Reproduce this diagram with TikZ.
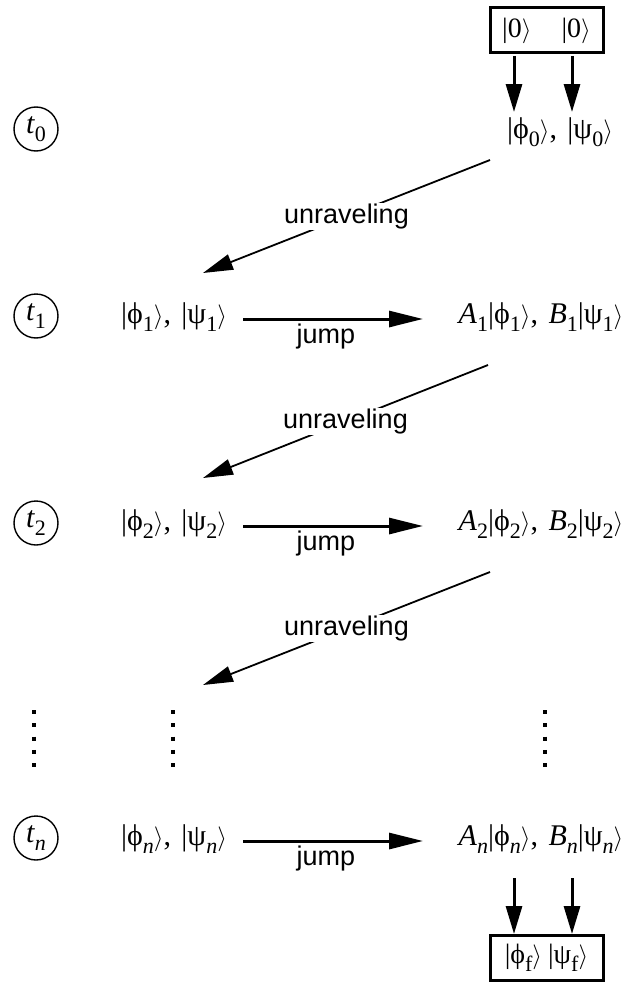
\documentclass[tikz,border=0pt]{standalone}
\usepackage{fontspec}
\setmainfont{Liberation Serif}
\newfontfamily\sansf{Liberation Sans}
\usetikzlibrary{arrows.meta}
\newcommand\sbs[1]{\raisebox{-0.27em}{\fontsize{22}{24}\selectfont #1}}
\newcommand\kt[2]{|#1\sbs{#2}$\rangle$}
\newcommand\cm{,\hspace{0.35em}}
\newcommand\ph{ϕ}
\newcommand\ps{ψ}
\begin{document}
\begin{tikzpicture}[x=1pt,y=-1pt,
  txt/.style={font=\fontsize{30}{33}\selectfont, inner sep=0pt},
  lbl/.style={font=\sansf\fontsize{27}{30}\selectfont, inner sep=1pt, fill=white},
  tcirc/.style={draw, circle, line width=1.4pt, minimum size=44pt, inner sep=0pt, font=\fontsize{30}{33}\selectfont},
  kbox/.style={draw, line width=3pt, minimum width=113pt, minimum height=45pt, inner sep=0pt, font=\fontsize{28}{30}\selectfont},
  dar/.style={line width=3pt, -{Triangle[length=28pt,width=16pt]}},
  jar/.style={line width=3pt, -{Triangle[length=34pt,width=16pt]}},
  uar/.style={line width=1.8pt, -{Triangle[length=30pt,width=16pt]}},
  vdots/.style={line width=4pt, dash pattern=on 4pt off 9.25pt}
]
\useasboundingbox (0,0) rectangle (634,982);

% top box
\node[kbox] (top) at (546.5,30.5) {|0$\rangle$\hspace{30pt}|0$\rangle$};
\coordinate (ta) at (514,56);
\coordinate (tb) at (572,56);
\coordinate (ha) at (514,112);
\coordinate (hb) at (572,112);
\draw[dar] (ta) -- (ha);
\draw[dar] (tb) -- (hb);

% circles
\node[tcirc] (t0) at (36,129) {\textit{t}\sbs{0}};
\node[tcirc] (t1) at (36,316) {\textit{t}\sbs{1}};
\node[tcirc] (t2) at (36,523) {\textit{t}\sbs{2}};
\node[tcirc] (tn) at (36,838) {\textit{t}\sbs{\textit{n}}};

% row 0
\node[txt] (r0) at (560,132) {\kt{\ph}{0}\cm\kt{\ps}{0}};

% row 1
\node[txt] (l1) at (174,317) {\kt{\ph}{1}\cm\kt{\ps}{1}};
\node[txt] (r1) at (541,317) {\textit{A}\sbs{1}\kt{\ph}{1}\cm\textit{B}\sbs{1}\kt{\ps}{1}};
% row 2
\node[txt] (l2) at (174,524) {\kt{\ph}{2}\cm\kt{\ps}{2}};
\node[txt] (r2) at (541,524) {\textit{A}\sbs{2}\kt{\ph}{2}\cm\textit{B}\sbs{2}\kt{\ps}{2}};
% row n
\node[txt] (ln) at (174,839) {\kt{\ph}{\textit{n}}\cm\kt{\ps}{\textit{n}}};
\node[txt] (rn) at (541,839) {\textit{A}\sbs{\textit{n}}\kt{\ph}{\textit{n}}\cm\textit{B}\sbs{\textit{n}}\kt{\ps}{\textit{n}}};

% jump arrows
\coordinate (j1a) at (243,319); \coordinate (j1b) at (423,319);
\coordinate (j2a) at (243,526); \coordinate (j2b) at (423,526);
\coordinate (jna) at (243,841); \coordinate (jnb) at (423,841);
\draw[jar] (j1a) -- (j1b);
\draw[jar] (j2a) -- (j2b);
\draw[jar] (jna) -- (jnb);
\node[lbl, fill=none] (jl1) at (326,337) {jump};
\node[lbl, fill=none] (jl2) at (326,544) {jump};
\node[lbl, fill=none] (jln) at (326,859) {jump};

% unraveling arrows
\coordinate (u1a) at (490,160); \coordinate (u1b) at (203,273);
\coordinate (u2a) at (488,365); \coordinate (u2b) at (203,478);
\coordinate (u3a) at (490,572); \coordinate (u3b) at (203,685);
\draw[uar] (u1a) -- node[lbl] (ul1) {unraveling} (u1b);
\draw[uar] (u2a) -- node[lbl] (ul2) {unraveling} (u2b);
\draw[uar] (u3a) -- node[lbl] (ul3) {unraveling} (u3b);

% vertical dots
\coordinate (d1a) at (34,710); \coordinate (d1b) at (34,768);
\coordinate (d2a) at (173,710); \coordinate (d2b) at (173,768);
\coordinate (d3a) at (545,710); \coordinate (d3b) at (545,768);
\draw[vdots] (d1a) -- (d1b);
\draw[vdots] (d2a) -- (d2b);
\draw[vdots] (d3a) -- (d3b);

% bottom
\coordinate (ba) at (514,878);
\coordinate (bb) at (572,878);
\node[kbox] (bot) at (546.5,958) {\kt{\ph}{f}\hspace{6pt}\kt{\ps}{f}};
\draw[dar] (ba) -- (ba |- bot.north);
\draw[dar] (bb) -- (bb |- bot.north);
\end{tikzpicture}
\end{document}
